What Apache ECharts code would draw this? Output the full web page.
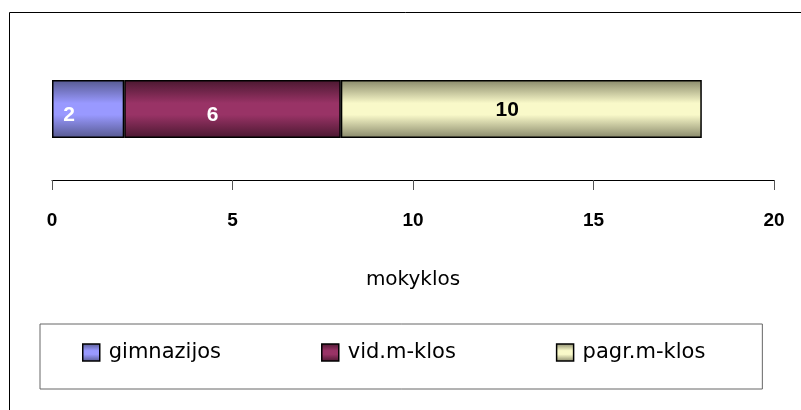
<!doctype html>
<html>
<head>
<meta charset="utf-8">
<style>
html, body { margin: 0; padding: 0; background: #fff; }
#main { width: 801px; height: 410px; }
</style>
</head>
<body>
<div id="main"></div>
<script src="https://cdn.jsdelivr.net/npm/echarts@6/dist/echarts.min.js"></script>
<script>
var seriesNames = ['gimnazijos', 'vid.m-klos', 'pagr.m-klos'];
var values = [2, 6, 10];
var categories = [''];
var axisTicks = [0, 20, 5];

var fills = [
    ['#56598f', '#9999ff'],
    ['#4a1830', '#993366'],
    ['#88886a', '#f9f9c9']
];
var labelColors = ['#fff', '#fff', '#000'];
var labelOffsets = [[-19, 6], [-20, 6], [-14, 1]];
var font = '"Liberation Sans", Arial, sans-serif';
var wideFont = '"DejaVu Sans", sans-serif';

function grad(c) {
    return new echarts.graphic.LinearGradient(0, 0, 0, 1, [
        { offset: 0, color: c[0] },
        { offset: 0.4, color: c[1] },
        { offset: 0.6, color: c[1] },
        { offset: 1, color: c[0] }
    ]);
}

var chart = echarts.init(document.getElementById('main'));

chart.setOption({
    animation: false,
    textStyle: { fontFamily: font },
    graphic: [{
        type: 'rect',
        shape: { x: 9.5, y: 12.5, width: 800, height: 420 },
        style: { fill: 'none', stroke: '#000', lineWidth: 1 },
        silent: true
    }],
    grid: { left: 52, right: 27, top: 38, height: 142 },
    legend: {
        left: 40,
        top: 324,
        padding: [18, 57, 26, 42],
        itemGap: 100,
        itemWidth: 25,
        itemHeight: 17,
        icon: 'path://M0,0H17V17H0Z',
        symbolKeepAspect: true,
        borderColor: '#666',
        borderWidth: 1,
        textStyle: { fontSize: 21, color: '#000', fontFamily: wideFont },
        data: seriesNames.map(function (n, i) {
            return { name: n, itemStyle: { color: grad(fills[i]), borderColor: '#000', borderWidth: 1.5 } };
        })
    },
    xAxis: {
        type: 'value',
        min: axisTicks[0],
        max: axisTicks[1],
        interval: axisTicks[2],
        name: 'mokyklos',
        nameLocation: 'middle',
        nameGap: 90,
        nameTextStyle: { fontSize: 20, color: '#000', fontFamily: wideFont },
        axisLine: { show: true, lineStyle: { color: '#000' } },
        axisTick: { show: true, length: 10, inside: false, lineStyle: { color: '#555' } },
        axisLabel: { fontSize: 19, fontWeight: 'bold', color: '#000', margin: 31, fontFamily: font },
        splitLine: { show: false }
    },
    yAxis: {
        type: 'category',
        data: categories,
        axisLine: { show: false },
        axisTick: { show: false },
        axisLabel: { show: false }
    },
    series: seriesNames.map(function (n, i) {
        return {
            name: n,
            type: 'bar',
            stack: 'total',
            barWidth: 58,
            data: [values[i]],
            itemStyle: { color: grad(fills[i]), borderColor: '#000', borderWidth: 1.5 },
            label: {
                show: true,
                position: 'inside',
                offset: labelOffsets[i],
                fontSize: 21,
                fontWeight: 'bold',
                color: labelColors[i],
                fontFamily: font
            }
        };
    })
});
</script>
</body>
</html>
